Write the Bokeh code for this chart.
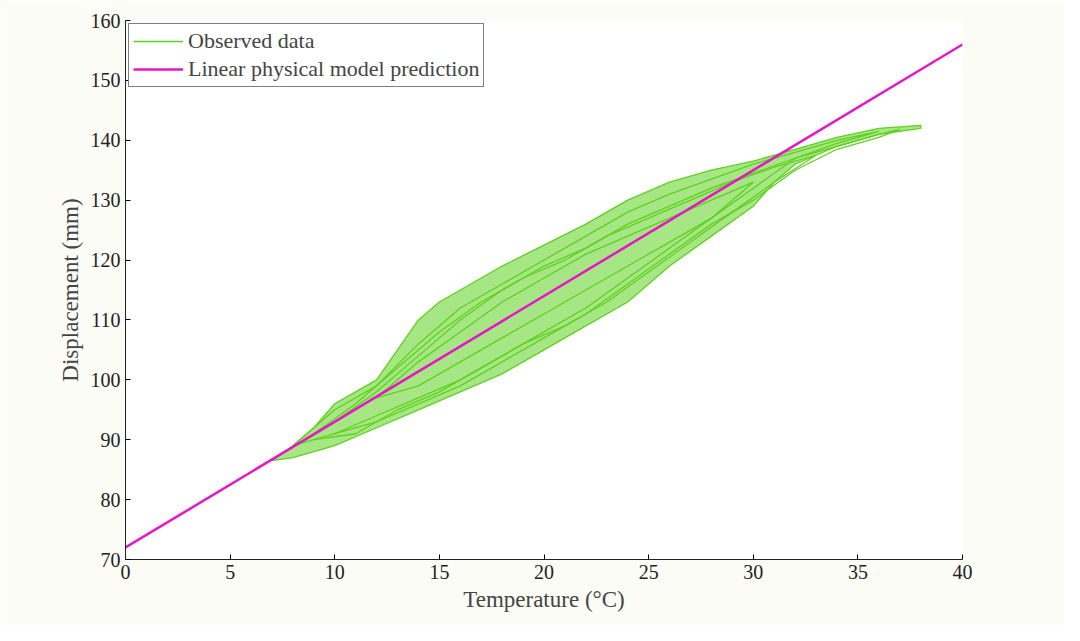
from bokeh.plotting import figure
from bokeh.models import Legend, LegendItem, FixedTicker, Range1d
from bokeh.embed import file_html
from bokeh.resources import INLINE

loop_t = [
    [7, 8, 9, 10, 11, 12, 13, 14, 15, 16, 17, 18, 20, 22, 24, 26, 28, 30, 32, 34, 36, 38,
     38, 36, 34, 32, 31, 30, 28, 26, 24, 22, 20, 18, 16, 14, 12, 10, 9, 8, 7],
    [8, 10, 12, 14, 16, 18, 20, 22, 24, 26, 28, 30, 32, 34, 36,
     34, 32, 30, 28, 26, 24, 22, 20, 18, 16, 14, 12, 10, 8],
    [9, 11, 13, 15, 17, 19, 21, 23, 25, 27, 29, 31, 33,
     31, 29, 27, 25, 23, 21, 19, 17, 15, 13, 11, 9],
    [10, 12, 14, 16, 18, 20, 22, 24, 26, 28, 30, 32, 34, 36, 37,
     36, 34, 32, 30, 28, 26, 24, 22, 20, 18, 16, 14, 12, 10],
    [12, 14, 16, 18, 20, 22, 24, 26, 28, 30,
     28, 26, 24, 22, 20, 18, 16, 14, 12],
]
loop_d = [
    [86.5, 89, 92, 96, 98, 100, 105, 110, 113, 115, 117, 119, 122.5, 126, 130, 133, 135, 136.5, 138.5, 140.5, 142, 142.5,
     142, 141, 139, 136, 133, 129, 124, 119, 113, 109, 105, 101, 98, 95, 92, 89, 88, 87, 86.5],
    [89, 95, 99, 106, 112, 116, 120, 124, 128, 131, 133.5, 136, 138, 140, 141.5,
     139.5, 137, 132, 127, 122, 117, 112, 108, 104, 100, 97, 94, 91, 89],
    [91, 96, 102, 108, 113, 117, 120, 124, 127, 130, 133, 135.5, 137.5,
     133, 128, 123, 118, 113, 109, 106, 102, 98, 95, 91, 90],
    [93, 98, 104, 110, 115, 119, 122, 126, 129, 132, 134.5, 137, 139, 141, 141.8,
     140.5, 138.5, 135, 130, 126, 121, 116, 111, 107, 103, 99, 96, 93, 91],
    [97, 103, 108, 113, 117, 121, 124, 127, 130, 133,
     127, 123, 119, 115, 111, 107, 103, 99, 97],
]

# linear physical model
model_t = [0, 40]
model_d = [72, 156]

GREEN = "#5fd11f"
MAGENTA = "#e814c8"
FONT = "Liberation Serif"

p = figure(width=1064, height=625, output_backend="svg", toolbar_location=None,
           x_range=Range1d(0, 40), y_range=Range1d(70, 160),
           min_border_left=125, min_border_right=102, min_border_top=20, min_border_bottom=66,
           border_fill_color="#fcfcf6", background_fill_color="white")
p.outline_line_color = None
p.grid.visible = False

p.patch(loop_t[0], loop_d[0], fill_color=GREEN, fill_alpha=0.55, line_color=None)
obs = p.multi_line(loop_t, loop_d, line_color=GREEN, line_width=1.3)
mod = p.line(model_t, model_d, line_color=MAGENTA, line_width=2.5)

p.xaxis.ticker = FixedTicker(ticks=list(range(0, 41, 5)))
p.yaxis.ticker = FixedTicker(ticks=list(range(70, 161, 10)))
p.xaxis.axis_label = "Temperature (°C)"
p.yaxis.axis_label = "Displacement (mm)"
for ax in (p.xaxis, p.yaxis):
    ax.axis_label_text_font = FONT
    ax.axis_label_text_font_style = "normal"
    ax.axis_label_text_font_size = "23px"
    ax.major_label_text_font = FONT
    ax.major_label_text_font_size = "20px"
    ax.major_tick_in = 5
    ax.major_tick_out = 0
    ax.minor_tick_line_color = None
    ax.axis_line_color = "#222222"
    ax.major_label_text_color = "#222222"

legend = Legend(items=[LegendItem(label="Observed data", renderers=[obs]),
                       LegendItem(label="Linear physical model prediction", renderers=[mod])],
                location="top_left", margin=3, padding=4, spacing=2,
                label_text_font=FONT, label_text_font_size="22px",
                border_line_color="black", glyph_width=50, label_height=24)
p.add_layout(legend)

open("out.html", "w").write(file_html(p, INLINE))
